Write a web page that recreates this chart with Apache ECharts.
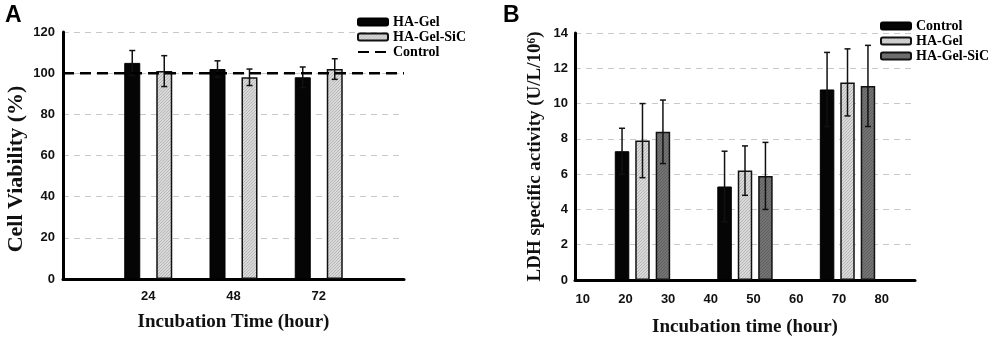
<!DOCTYPE html>
<html>
<head>
<meta charset="utf-8">
<script src="https://cdn.jsdelivr.net/npm/echarts@6/dist/echarts.min.js"></script>
<style>html,body{margin:0;padding:0;background:#fff}#c{width:1000px;height:341px}</style>
</head>
<body>
<div id="c"></div>
<script>
// ---------- data ----------
const timesA = [24, 48, 72];
const haGelA = [105, 102, 98];
const haGelAErr = [6, 4, 5];
const haGelSiCA = [101, 98, 102];
const haGelSiCAErr = [7.5, 4, 5];
const controlA = 100;
const xTicksA = [24, 48, 72];

const timesB = [24, 48, 72];
const controlB = [7.3, 5.3, 10.8];
const controlBErr = [1.3, 2.0, 2.1];
const haGelB = [7.9, 6.2, 11.2];
const haGelBErr = [2.1, 1.4, 1.9];
const haGelSiCB = [8.4, 5.9, 11.0];
const haGelSiCBErr = [1.8, 1.9, 2.3];
const xTicksB = [10, 20, 30, 40, 50, 60, 70, 80];

// ---------- styles ----------
const SERIF = 'Liberation Serif';
const SANS = 'Liberation Sans';
function hatch(bg, fg) {
  const c = document.createElement('canvas');
  c.width = 3; c.height = 3;
  const g = c.getContext('2d');
  g.fillStyle = bg; g.fillRect(0, 0, 3, 3);
  g.strokeStyle = fg; g.lineWidth = 0.8;
  g.beginPath();
  g.moveTo(-1, 4); g.lineTo(4, -1);
  g.moveTo(-1, 1); g.lineTo(1, -1);
  g.moveTo(2, 4); g.lineTo(4, 2);
  g.stroke();
  return { image: c, repeat: 'repeat' };
}
const lightHatch = hatch('#d9d9d9', '#b0b0b0');
const darkHatch = hatch('#737373', '#5c5c5c');

const pairs = (xs, ys) => xs.map((x, i) => [x, ys[i]]);
const triples = (xs, ys, es) => xs.map((x, i) => [x, ys[i], es[i]]);

function errSeries(name, idx, xs, ys, es, offset) {
  return {
    name: name, type: 'custom', xAxisIndex: idx, yAxisIndex: idx, z: 5,
    data: triples(xs, ys, es),
    renderItem: function (params, api) {
      const top = api.coord([api.value(0), api.value(1) + api.value(2)]);
      const bot = api.coord([api.value(0), api.value(1) - api.value(2)]);
      const x = top[0] + offset;
      const st = { stroke: '#111', lineWidth: 1.5 };
      return {
        type: 'group',
        children: [
          { type: 'line', shape: { x1: x, y1: top[1], x2: x, y2: bot[1] }, style: st },
          { type: 'line', shape: { x1: x - 3, y1: top[1], x2: x + 3, y2: top[1] }, style: st },
          { type: 'line', shape: { x1: x - 3, y1: bot[1], x2: x + 3, y2: bot[1] }, style: st }
        ]
      };
    }
  };
}

const axisLine = { show: true, lineStyle: { color: '#000', width: 3 } };
const tickLabel = { fontFamily: SANS, fontWeight: 'bold', fontSize: 13, color: '#111' };
const splitLine = { show: true, lineStyle: { color: '#c8c8c8', width: 1, type: [6, 5] } };
const nameStyle = { fontFamily: SERIF, fontWeight: 'bold', color: '#111' };

const BW_A = 16, BW_B = 14.5;

const option = {
  animation: false,
  backgroundColor: '#fff',
  grid: [
    { left: 63, right: 596, top: 32, bottom: 62, outerBoundsMode: 'none', containLabel: false },
    { left: 575, right: 85, top: 33, bottom: 61, outerBoundsMode: 'none', containLabel: false }
  ],
  xAxis: [
    {
      gridIndex: 0, type: 'value', min: 0, max: 96, interval: 24,
      axisLine: axisLine, axisTick: { show: false }, splitLine: { show: false },
      axisLabel: Object.assign({}, tickLabel, {
        margin: 11,
        formatter: v => (xTicksA.indexOf(v) >= 0 ? String(v) : '')
      }),
      name: 'Incubation Time (hour)', nameLocation: 'middle', nameGap: 34,
      nameTextStyle: Object.assign({}, nameStyle, { fontSize: 19 })
    },
    {
      gridIndex: 1, type: 'value', min: 8.2, max: 87.8,
      axisLine: axisLine, axisTick: { show: false }, splitLine: { show: false },
      axisLabel: Object.assign({}, tickLabel, { margin: 13, customValues: xTicksB }),
      name: 'Incubation time (hour)', nameLocation: 'middle', nameGap: 38,
      nameTextStyle: Object.assign({}, nameStyle, { fontSize: 19 })
    }
  ],
  yAxis: [
    {
      gridIndex: 0, type: 'value', min: 0, max: 120, interval: 20,
      axisLine: axisLine, axisTick: { show: false }, splitLine: splitLine,
      axisLabel: Object.assign({}, tickLabel, { margin: 8 }),
      name: 'Cell Viability (%)', nameLocation: 'middle', nameGap: 36,
      nameTextStyle: Object.assign({}, nameStyle, { fontSize: 22, padding: [0, 27, 0, 0] })
    },
    {
      gridIndex: 1, type: 'value', min: 0, max: 14, interval: 2,
      axisLine: axisLine, axisTick: { show: false }, splitLine: splitLine,
      axisLabel: Object.assign({}, tickLabel, { margin: 7 }),
      name: 'LDH specific activity (U/L/10\u2076)', nameLocation: 'middle', nameGap: 30,
      nameTextStyle: Object.assign({}, nameStyle, { fontSize: 19 })
    }
  ],
  legend: [
    {
      orient: 'vertical', left: 352, top: 10, itemWidth: 30, itemHeight: 7, itemGap: 1,
      selectedMode: false,
      textStyle: { fontFamily: SERIF, fontWeight: 'bold', fontSize: 14, color: '#000', lineHeight: 14 },
      data: [
        { name: 'HA-Gel', icon: 'roundRect' },
        { name: 'HA-Gel-SiC', icon: 'roundRect' },
        { name: 'Control', itemStyle: { opacity: 0 } }
      ]
    },
    {
      orient: 'vertical', left: 875, top: 14, itemWidth: 30, itemHeight: 7, itemGap: 1,
      selectedMode: false,
      formatter: n => n.replace(/^B:/, ''),
      textStyle: { fontFamily: SERIF, fontWeight: 'bold', fontSize: 14, color: '#000', lineHeight: 14 },
      data: [{ name: 'B:Control', icon: 'roundRect' }, { name: 'B:HA-Gel', icon: 'roundRect' }, { name: 'B:HA-Gel-SiC', icon: 'roundRect' }]
    }
  ],
  graphic: [
    { type: 'text', left: 5, top: 4, style: { text: 'A', font: 'bold 23px "Liberation Sans"', fill: '#000' } },
    { type: 'text', left: 503, top: 4, style: { text: 'B', font: 'bold 23px "Liberation Sans"', fill: '#000' } }
  ],
  series: [
    {
      name: 'HA-Gel', type: 'bar', xAxisIndex: 0, yAxisIndex: 0, barWidth: BW_A, barGap: '100%',
      itemStyle: { color: '#050505', borderColor: '#000', borderWidth: 1 },
      data: pairs(timesA, haGelA)
    },
    {
      name: 'HA-Gel-SiC', type: 'bar', xAxisIndex: 0, yAxisIndex: 0, barWidth: BW_A, barGap: '100%',
      itemStyle: { color: lightHatch, borderColor: '#111', borderWidth: 1.5 },
      data: pairs(timesA, haGelSiCA)
    },
    {
      name: 'Control', type: 'line', xAxisIndex: 0, yAxisIndex: 0, z: 6,
      symbol: 'none', showSymbol: false, silent: true,
      lineStyle: { color: '#000', width: 2.5, type: [11, 6] },
      itemStyle: { color: '#000' },
      data: [[0, controlA], [96, controlA]]
    },
    errSeries('errA1', 0, timesA, haGelA, haGelAErr, -BW_A),
    errSeries('errA2', 0, timesA, haGelSiCA, haGelSiCAErr, BW_A),
    {
      name: 'B:Control', type: 'bar', xAxisIndex: 1, yAxisIndex: 1, barWidth: BW_B, barGap: '41%',
      itemStyle: { color: '#050505', borderColor: '#000', borderWidth: 1 },
      data: pairs(timesB, controlB)
    },
    {
      name: 'B:HA-Gel', type: 'bar', xAxisIndex: 1, yAxisIndex: 1, barWidth: BW_B, barGap: '41%',
      itemStyle: { color: lightHatch, borderColor: '#111', borderWidth: 1.5 },
      data: pairs(timesB, haGelB)
    },
    {
      name: 'B:HA-Gel-SiC', type: 'bar', xAxisIndex: 1, yAxisIndex: 1, barWidth: BW_B, barGap: '41%',
      itemStyle: { color: darkHatch, borderColor: '#111', borderWidth: 1.5 },
      data: pairs(timesB, haGelSiCB)
    },
    errSeries('errB1', 1, timesB, controlB, controlBErr, -(BW_B + BW_B * 0.41)),
    errSeries('errB2', 1, timesB, haGelB, haGelBErr, 0),
    errSeries('errB3', 1, timesB, haGelSiCB, haGelSiCBErr, BW_B + BW_B * 0.41)
  ]
};

const chart = echarts.init(document.getElementById('c'), null, { renderer: 'canvas' });
chart.setOption(option);
</script>
</body>
</html>
